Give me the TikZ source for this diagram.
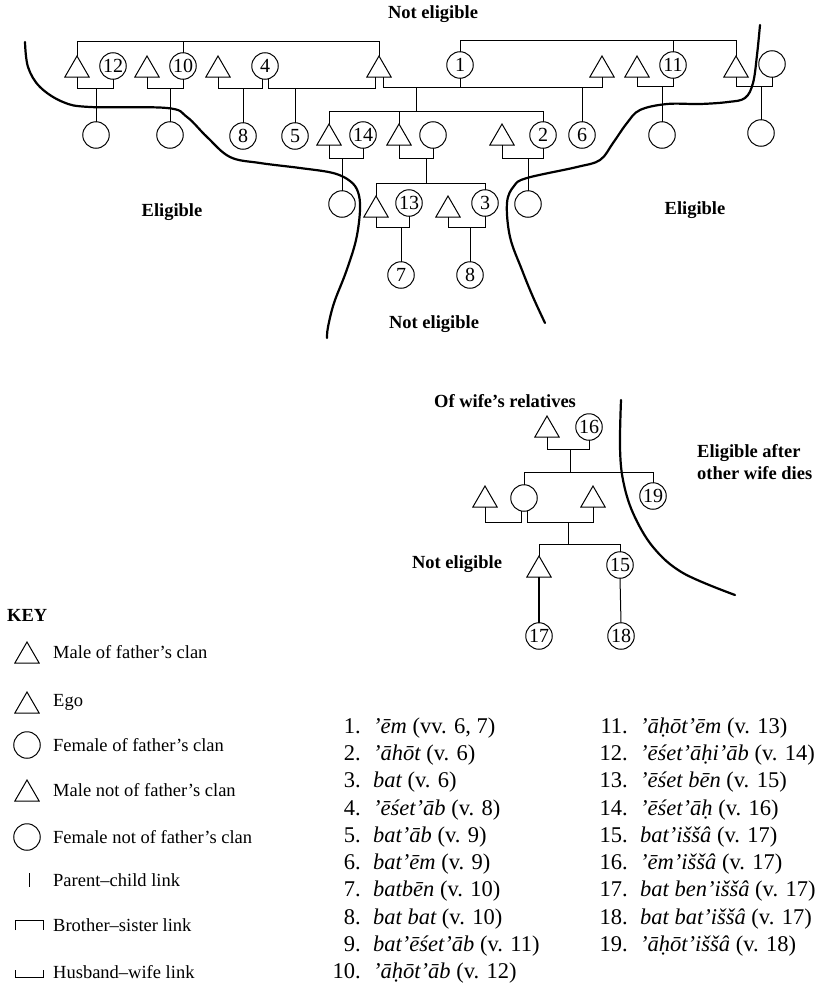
\documentclass[tikz,border=0pt]{standalone}
\usepackage{fontspec}
\setmainfont{Liberation Serif}
\usetikzlibrary{shapes.geometric}
\begin{document}
\begin{tikzpicture}[x=1pt,y=-1pt,
  tri/.style={regular polygon, regular polygon sides=3, draw, minimum size=28pt, inner sep=0pt, outer sep=0pt, line width=1pt},
  circ/.style={circle, draw, minimum size=26.5pt, inner sep=0pt, outer sep=0pt, line width=1pt, font=\fontsize{20}{20}\selectfont},
  lnk/.style={line width=1pt},
  bnd/.style={line width=2.2pt, line cap=round},
  lbl/.style={font=\fontsize{18.5}{22}\selectfont\bfseries, inner sep=0pt},
  keytxt/.style={font=\fontsize{18.5}{20}\selectfont, anchor=west, inner sep=0pt},
  num/.style={font=\fontsize{22.5}{22}\selectfont, anchor=base east, inner sep=0pt},
  itm/.style={font=\fontsize{22.5}{22}\selectfont, anchor=base west, inner sep=0pt}]
\useasboundingbox (0,0) rectangle (819,990);

% ---------- boundaries (top diagram) ----------
\draw[bnd] plot[smooth, tension=0.6] coordinates {(25,42) (28,67) (40,87) (63,102) (90,107) (167,108) (187,117) (207,137) (230,157) (260,163) (300,168) (333,173) (350,181) (358,192) (360,210) (356,240) (346,272) (334,303) (328,327) (327,338)};
\draw[bnd] plot[smooth, tension=0.6] coordinates {(760,25) (757,55) (753,83) (745,98) (728,102) (700,104) (667,104) (640,110) (627,123) (613,143) (600,160) (577,167) (527,178) (514,186) (507,203) (510,237) (522,270) (533,297) (545,323)};

% ---------- row 1 ----------
\node[tri] (Ta) at (77,70) {};
\node[circ] (C12) at (113,66) {12};
\node[tri] (Tb) at (147,70) {};
\node[circ] (C10) at (183,66) {10};
\node[tri] (Tc) at (218,70) {};
\node[circ] (C4) at (265,66) {4};
\node[tri] (Td) at (379,70) {};
\node[circ] (C1) at (460,65) {1};
\node[tri] (Te) at (602,70) {};
\node[tri] (Tf) at (637,70) {};
\node[circ] (C11) at (673,65) {11};
\node[tri] (Tg) at (736,70) {};
\node[circ] (Cg) at (772,64) {};

% ---------- row 2 ----------
\node[circ] (Ca) at (96,135) {};
\node[circ] (Cb) at (170,135) {};
\node[circ] (C8a) at (243,136) {8};
\node[circ] (C5) at (295,136) {5};
\node[tri] (Th) at (329,138) {};
\node[circ] (C14) at (363,135) {14};
\node[tri] (Ti) at (399,138) {};
\node[circ] (Cj) at (433,135) {};
\node[tri] (Tk) at (502,138) {};
\node[circ] (C2) at (543,135) {2};
\node[circ] (C6) at (582,135) {6};
\node[circ] (Cf) at (662,135) {};
\node[circ] (Cgc) at (761,133) {};

% ---------- row 3 ----------
\node[circ] (C14c) at (342,204) {};
\node[tri] (Tl) at (376,210) {};
\node[circ] (C13) at (409,203) {13};
\node[tri] (Tm) at (448,210) {};
\node[circ] (C3) at (485,203) {3};
\node[circ] (C2c) at (528,204) {};

% ---------- row 4 ----------
\node[circ] (C7) at (401,275) {7};
\node[circ] (C8b) at (470,275) {8};

% ---------- links top diagram ----------
\draw[lnk] (Ta.north) -- (Ta.north |- 0,42) -- (Td.north |- 0,42) -- (Td.north);
\draw[lnk] (C10.north) -- (C10.north |- 0,42);
\draw[lnk] (C1.north) -- (C1.north |- 0,41) -- (Tg.north |- 0,41) -- (Tg.north);
\draw[lnk] (C11.north) -- (C11.north |- 0,41);

\draw[lnk] (Ta.south) -- (Ta.south |- 0,88) -- (C12.south |- 0,88) -- (C12.south);
\draw[lnk] (Ca.north) -- (Ca.north |- 0,88);
\draw[lnk] (Tb.south) -- (Tb.south |- 0,88) -- (C10.south |- 0,88) -- (C10.south);
\draw[lnk] (Cb.north) -- (Cb.north |- 0,88);
\coordinate (C4l) at ([xshift=-3pt]C4.south);
\coordinate (C4r) at ([xshift=3pt]C4.south);
\coordinate (Tdl) at ([xshift=-4pt]Td.south);
\coordinate (Tdr) at ([xshift=4pt]Td.south);
\draw[lnk] (Tc.south) -- (Tc.south |- 0,88) -- (C4l |- 0,88) -- (C4l);
\draw[lnk] (C8a.north) -- (C8a.north |- 0,88);
\draw[lnk] (C4r) -- (C4r |- 0,88) -- (Tdl |- 0,88) -- (Tdl);
\draw[lnk] (C5.north) -- (C5.north |- 0,88);
\draw[lnk] (Tdr) -- (Tdr |- 0,87) -- (Te.south |- 0,87) -- (Te.south);
\draw[lnk] (C1.south) -- (C1.south |- 0,87);
\draw[lnk] (C6.north) -- (C6.north |- 0,87);
\coordinate (s1) at (416,111);
\draw[lnk] (s1) -- (s1 |- 0,87);
\draw[lnk] (Tf.south) -- (Tf.south |- 0,86) -- (C11.south |- 0,86) -- (C11.south);
\draw[lnk] (Cf.north) -- (Cf.north |- 0,86);
\draw[lnk] (Tg.south) -- (Tg.south |- 0,86) -- (Cg.south |- 0,86) -- (Cg.south);
\draw[lnk] (Cgc.north) -- (Cgc.north |- 0,86);

\draw[lnk] (Th.north) -- (Th.north |- 0,111) -- (C2.north |- 0,111) -- (C2.north);
\draw[lnk] (Ti.north) -- (Ti.north |- 0,111);

\draw[lnk] (Th.south) -- (Th.south |- 0,158) -- (C14.south |- 0,158) -- (C14.south);
\draw[lnk] (C14c.north) -- (C14c.north |- 0,158);
\draw[lnk] (Ti.south) -- (Ti.south |- 0,158) -- (Cj.south |- 0,158) -- (Cj.south);
\coordinate (s2) at (426,183);
\draw[lnk] (s2) -- (s2 |- 0,158);
\draw[lnk] (Tk.south) -- (Tk.south |- 0,158) -- (C2.south |- 0,158) -- (C2.south);
\draw[lnk] (C2c.north) -- (C2c.north |- 0,158);

\draw[lnk] (Tl.north) -- (Tl.north |- 0,183) -- (C3.north |- 0,183) -- (C3.north);
\draw[lnk] (Tl.south) -- (Tl.south |- 0,227) -- (C13.south |- 0,227) -- (C13.south);
\draw[lnk] (C7.north) -- (C7.north |- 0,227);
\draw[lnk] (Tm.south) -- (Tm.south |- 0,227) -- (C3.south |- 0,227) -- (C3.south);
\draw[lnk] (C8b.north) -- (C8b.north |- 0,227);

% ---------- labels top ----------
\node[lbl] (ne1) at (433,14) {Not eligible};
\node[lbl] (el1) at (172,212) {Eligible};
\node[lbl] (el2) at (695,210) {Eligible};
\node[lbl] (ne2) at (434,324) {Not eligible};

% ---------- middle diagram ----------
\draw[bnd] plot[smooth, tension=0.6] coordinates {(621,400) (620,447) (623,480) (633,513) (653,547) (683,573) (735,595)};
\node[lbl] (owr) at (505,401) {Of wife’s relatives};
\node[lbl, align=left, anchor=west] (ea) at (697,462) {Eligible after\\other wife dies};
\node[lbl] (ne3) at (457,564) {Not eligible};

\node[tri] (Tn) at (547,430) {};
\node[circ] (C16) at (589,427) {16};
\node[circ] (Cm) at (524,498) {};
\node[circ] (C19) at (653,496) {19};
\node[tri] (To) at (485,500) {};
\node[tri] (Tp) at (593,500) {};
\node[tri] (Tq) at (539,570) {};
\node[circ] (C15) at (620,565) {15};
\node[circ] (C17) at (539,636) {17};
\node[circ] (C18) at (621,636) {18};

\draw[lnk] (Tn.south) -- (Tn.south |- 0,449) -- (C16.south |- 0,449) -- (C16.south);
\coordinate (s3) at (570,472);
\draw[lnk] (s3) -- (s3 |- 0,449);
\draw[lnk] (Cm.north) -- (Cm.north |- 0,472) -- (C19.north |- 0,472) -- (C19.north);
\coordinate (Cml) at ([xshift=-3pt]Cm.south);
\coordinate (Cmr) at ([xshift=3pt]Cm.south);
\draw[lnk] (To.south) -- (To.south |- 0,522) -- (Cml |- 0,522) -- (Cml);
\draw[lnk] (Cmr) -- (Cmr |- 0,522) -- (Tp.south |- 0,522) -- (Tp.south);
\coordinate (s4) at (568,544);
\draw[lnk] (s4) -- (s4 |- 0,522);
\draw[lnk] (Tq.north) -- (Tq.north |- 0,544) -- (C15.north |- 0,544) -- (C15.north);
\draw[line width=1.5pt] (Tq.south) -- (C17.north);
\draw[lnk] (C15.south) -- (C18.north);

% ---------- key ----------
\node[lbl, anchor=west] (key) at (7,615) {KEY};
\node[tri] (K1) at (27,656) {};
\node[keytxt] (K1t) at (53,652) {Male of father’s clan};
\node[tri] (K2) at (27,706) {};
\node[keytxt] (K2t) at (53,702) {Ego};
\node[circ] (K3) at (27,745) {};
\node[keytxt] (K3t) at (53,745) {Female of father’s clan};
\node[tri] (K4) at (27,794) {};
\node[keytxt] (K4t) at (53,790) {Male not of father’s clan};
\node[circ] (K5) at (27,837) {};
\node[keytxt] (K5t) at (53,837) {Female not of father’s clan};
\coordinate (K6a) at (29,873);
\coordinate (K6b) at (29,887);
\draw[lnk] (K6a) -- (K6b);
\node[keytxt] (K6t) at (53,880) {Parent–child link};
\coordinate (K7a) at (15,930);
\coordinate (K7b) at (43,930);
\draw[lnk] (K7a) -- (15,920) -- (43,920) -- (K7b);
\node[keytxt] (K7t) at (53,925) {Brother–sister link};
\coordinate (K8a) at (15,970);
\coordinate (K8b) at (43,970);
\draw[lnk] (K8a) -- (15,977) -- (43,977) -- (K8b);
\node[keytxt] (K8t) at (53,972) {Husband–wife link};

% ---------- list ----------
\foreach \n/\t [count=\i from 0] in {
  1/{{\itshape ’ēm} (vv. 6, 7)},
  2/{{\itshape ’āhōt} (v. 6)},
  3/{{\itshape bat} (v. 6)},
  4/{{\itshape ’ēśet’āb} (v. 8)},
  5/{{\itshape bat’āb} (v. 9)},
  6/{{\itshape bat’ēm} (v. 9)},
  7/{{\itshape batbēn} (v. 10)},
  8/{{\itshape bat bat} (v. 10)},
  9/{{\itshape bat’ēśet’āb} (v. 11)},
  10/{{\itshape ’āḥōt’āb} (v. 12)}}{
  \node[num] (ln\n) at (361,733+27.33*\i) {\n.};
  \node[itm] (lt\n) at (373,733+27.33*\i) {\t};
}
\foreach \n/\t [count=\i from 0] in {
  11/{{\itshape ’āḥōt’ēm} (v. 13)},
  12/{{\itshape ’ēśet’āḥi’āb} (v. 14)},
  13/{{\itshape ’ēśet bēn} (v. 15)},
  14/{{\itshape ’ēśet’āḥ} (v. 16)},
  15/{{\itshape bat’iššâ} (v. 17)},
  16/{{\itshape ’ēm’iššâ} (v. 17)},
  17/{{\itshape bat ben’iššâ} (v. 17)},
  18/{{\itshape bat bat’iššâ} (v. 17)},
  19/{{\itshape ’āḥōt’iššâ} (v. 18)}}{
  \node[num] (ln\n) at (628,733+27.33*\i) {\n.};
  \node[itm] (lt\n) at (640,733+27.33*\i) {\t};
}
\end{tikzpicture}
\end{document}
